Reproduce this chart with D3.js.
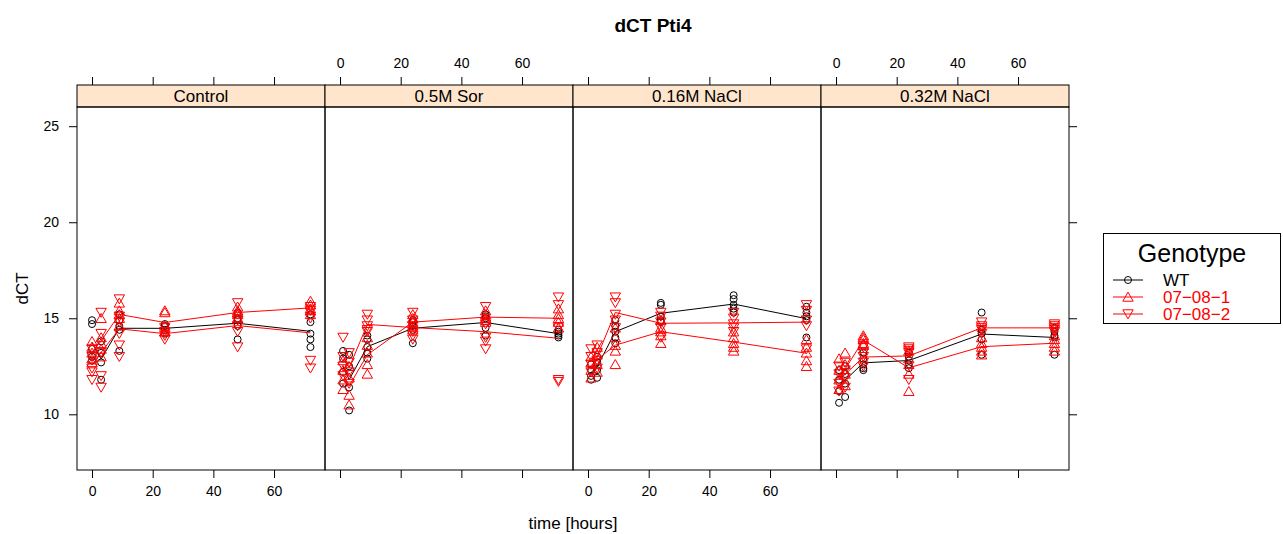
<!DOCTYPE html>
<html>
<head>
<meta charset="utf-8">
<script src="https://cdn.jsdelivr.net/npm/d3@7"></script>
<style>
  body { margin: 0; background: #fff; }
  text { font-family: "Liberation Sans", Arial, Helvetica, sans-serif; }
</style>
</head>
<body>
<svg id="chart" width="1283" height="534"></svg>
<script>
// ---- data -------------------------------------------------------------
const panelNames = ["Control", "0.5M Sor", "0.16M NaCl", "0.32M NaCl"];
const genotypes = ["WT", "07-08-1", "07-08-2"];
const xTicks = [0, 20, 40, 60];
const yTicks = [10, 15, 20, 25];

// sampling times (hours)
const timesControl = [0, 3, 9, 24, 48, 72];
const timesTreated = [1, 3, 9, 24, 48, 72];

// replicate dCT values, one inner array per sampling time
const controlWT = [[14.9, 14.7, 13.4, 13.0, 12.8], [13.8, 13.2, 12.7, 11.8], [15.2, 14.9, 14.6, 14.4, 13.3], [14.7, 14.6, 14.4, 14.2], [15.3, 15.0, 14.9, 14.6, 13.9], [15.2, 14.8, 14.2, 13.9, 13.5]];
const control081 = [[13.8, 13.5, 13.2, 12.9, 12.7], [15.0, 14.0, 13.7, 13.4, 13.0], [15.8, 15.4, 15.2, 15.0, 14.6], [15.4, 15.3, 14.6, 14.3, 14.3], [15.6, 15.4, 15.3, 15.2, 15.0], [15.9, 15.7, 15.5, 15.4, 15.2]];
const control082 = [[13.4, 13.0, 12.4, 12.2, 11.8], [15.3, 14.2, 13.2, 12.0, 11.4], [16.0, 15.1, 14.8, 14.2, 13.6, 13.0], [14.5, 14.3, 14.1, 13.9], [15.8, 14.9, 14.6, 14.3, 13.5], [15.6, 15.4, 15.0, 12.8, 12.4]];

const sorWT = [[13.3, 12.9, 12.2, 11.6], [13.1, 12.5, 11.4, 10.2], [14.1, 13.9, 13.5, 13.2, 12.9], [14.9, 14.8, 14.6, 14.4, 13.7], [15.2, 15.1, 15.0, 14.5, 14.1], [14.4, 14.3, 14.2, 14.1, 14.0]];
const sor081 = [[12.8, 12.3, 11.8, 11.3], [12.5, 11.9, 11.0, 10.5], [14.0, 13.6, 13.2, 12.6, 12.1], [15.2, 15.0, 14.8, 14.6, 14.4], [15.4, 15.2, 15.0, 14.9, 14.8], [15.5, 15.2, 15.0, 14.8, 14.5]];
const sor082 = [[14.0, 13.0, 12.5, 12.0], [13.2, 12.7, 12.2, 11.6], [15.2, 14.9, 14.6, 14.4, 14.3], [15.3, 14.9, 14.6, 14.3, 14.1, 13.9], [15.6, 14.7, 14.0, 13.8, 13.4], [16.1, 15.7, 14.5, 11.8, 11.7]];

const nacl16WT = [[12.6, 12.3, 12.0, 11.8], [13.0, 12.7, 12.3, 11.9], [14.9, 14.6, 14.3, 14.0, 13.7], [15.8, 15.7, 15.1, 14.9, 14.8], [16.2, 16.0, 15.7, 15.5, 15.3], [15.6, 15.3, 15.1, 14.9, 14.0]];
const nacl16081 = [[13.0, 12.7, 12.3, 11.9], [13.5, 13.1, 12.6, 12.2], [14.5, 14.0, 13.6, 13.3, 12.6], [14.9, 14.5, 14.3, 14.1, 13.7], [14.3, 14.0, 13.7, 13.5, 13.3], [13.9, 13.5, 13.2, 12.8, 12.5]];
const nacl16082 = [[13.4, 13.0, 12.6, 12.2], [13.6, 13.2, 12.8, 12.4], [16.1, 15.8, 15.2, 14.9, 14.5], [15.3, 15.1, 14.8, 14.5, 14.0], [15.3, 15.0, 14.7, 14.5, 14.3], [15.7, 15.4, 14.9, 14.6, 13.4]];

const nacl32WT = [[12.3, 11.8, 11.2, 10.6], [12.5, 12.1, 11.6, 10.9], [13.2, 12.9, 12.6, 12.4, 12.3], [13.2, 13.0, 12.8, 12.6, 12.4], [15.3, 14.4, 14.2, 13.9, 13.1], [14.5, 14.3, 14.1, 14.0, 13.1]];
const nacl32081 = [[12.9, 12.3, 11.8, 11.3], [13.2, 12.6, 12.1, 11.5], [14.1, 14.0, 13.9, 13.7, 13.6], [13.3, 12.9, 12.6, 12.1, 11.2], [14.0, 13.7, 13.5, 13.3, 13.1], [14.1, 13.9, 13.7, 13.5, 13.3]];
const nacl32082 = [[12.5, 12.1, 11.6, 11.2], [12.7, 12.3, 11.9, 11.4], [13.5, 13.2, 13.0, 12.7, 12.5], [13.5, 13.4, 13.3, 13.2, 11.8], [14.8, 14.6, 14.5, 14.4, 14.2], [14.7, 14.6, 14.5, 14.4, 14.3]];

// ---- assemble per-panel series -----------------------------------------
const panelTimes = [timesControl, timesTreated, timesTreated, timesTreated];
const panelValues = [
  [controlWT, control081, control082],
  [sorWT, sor081, sor082],
  [nacl16WT, nacl16081, nacl16082],
  [nacl32WT, nacl32081, nacl32082]
];

// ---- layout --------------------------------------------------------------
const svg = d3.select("#chart");
const left = 77, right = 1069;
const stripTop = 85, stripBottom = 107, plotBottom = 470;
const panelW = (right - left) / panelNames.length;
const genoColor = ["#000000", "#ff0000", "#ff0000"];

const y = d3.scaleLinear().domain([7.1, 26.0]).range([plotBottom, stripBottom]);

// open plotting symbols: circle, up-triangle, down-triangle
function symbolPath(kind) {
  const s = 5.2, h = 4.5;
  if (kind === 1) return `M0,${-h - 0.3}L${s},${h - 0.3}L${-s},${h - 0.3}Z`;
  if (kind === 2) return `M0,${h + 0.3}L${s},${-h + 0.3}L${-s},${-h + 0.3}Z`;
  return d3.path();
}

function drawSymbol(g, kind, cx, cy, color) {
  if (kind === 0) {
    g.append("circle").attr("cx", cx).attr("cy", cy).attr("r", 3.5)
      .attr("fill", "none").attr("stroke", color).attr("stroke-width", 1);
  } else {
    g.append("path").attr("d", symbolPath(kind))
      .attr("transform", `translate(${cx},${cy})`)
      .attr("fill", "none").attr("stroke", color).attr("stroke-width", 1);
  }
}

// title
svg.append("text").attr("x", 653).attr("y", 32).attr("text-anchor", "middle")
  .attr("font-size", 19).attr("font-weight", "bold").text("dCT Pti4");

panelNames.forEach((name, p) => {
  const x0 = left + p * panelW;
  const x = d3.scaleLinear().domain([-4.95, 76.8]).range([x0, x0 + panelW]);

  // bottom axis (labels on panels 1 and 3)
  const bottom = svg.append("g").attr("transform", `translate(0,${plotBottom})`)
    .call(d3.axisBottom(x).tickValues(xTicks).tickSize(8).tickPadding(8)
      .tickFormat(p % 2 === 0 ? d3.format("d") : () => ""));
  // top axis (labels on panels 2 and 4)
  const top = svg.append("g").attr("transform", `translate(0,${stripTop})`)
    .call(d3.axisTop(x).tickValues(xTicks).tickSize(8).tickPadding(9)
      .tickFormat(p % 2 === 1 ? d3.format("d") : () => ""));
  [bottom, top].forEach(a => {
    a.select(".domain").remove();
    a.selectAll("line").attr("stroke", "#000");
    a.selectAll("text").attr("font-size", 14).attr("fill", "#000")
      .style("font-family", '"Liberation Sans", Arial, sans-serif');
  });

  // strip
  svg.append("rect").attr("x", x0).attr("y", stripTop).attr("width", panelW)
    .attr("height", stripBottom - stripTop).attr("fill", "#ffe5cc")
    .attr("stroke", "#000").attr("stroke-width", 1);
  svg.append("text").attr("x", x0 + panelW / 2).attr("y", 102)
    .attr("text-anchor", "middle").attr("font-size", 17).text(name);

  // panel frame
  svg.append("rect").attr("x", x0).attr("y", stripBottom).attr("width", panelW)
    .attr("height", plotBottom - stripBottom).attr("fill", "none")
    .attr("stroke", "#000").attr("stroke-width", 1);

  // points and mean lines for each genotype
  const g = svg.append("g");
  const times = panelTimes[p];
  panelValues[p].forEach((series, gi) => {
    const col = genoColor[gi];
    series.forEach((reps, ti) => {
      reps.forEach(v => drawSymbol(g, gi, x(times[ti]), y(v), col));
    });
    const means = series.map((reps, ti) => [times[ti], d3.mean(reps)]);
    g.append("path").datum(means)
      .attr("d", d3.line().x(d => x(d[0])).y(d => y(d[1])))
      .attr("fill", "none").attr("stroke", col).attr("stroke-width", 1);
  });
});

// y axes (labels left, ticks only right)
const yl = svg.append("g").attr("transform", `translate(${left},0)`)
  .call(d3.axisLeft(y).tickValues(yTicks).tickSize(8).tickPadding(10));
const yr = svg.append("g").attr("transform", `translate(${right},0)`)
  .call(d3.axisRight(y).tickValues(yTicks).tickSize(8).tickFormat(() => ""));
[yl, yr].forEach(a => {
  a.select(".domain").remove();
  a.selectAll("line").attr("stroke", "#000");
  a.selectAll("text").attr("font-size", 14).attr("fill", "#000")
    .style("font-family", '"Liberation Sans", Arial, sans-serif');
});

// axis titles
svg.append("text").attr("transform", `translate(28,${(stripBottom + plotBottom) / 2}) rotate(-90)`)
  .attr("text-anchor", "middle").attr("font-size", 17).text("dCT");
svg.append("text").attr("x", (left + right) / 2).attr("y", 529)
  .attr("text-anchor", "middle").attr("font-size", 17).text("time [hours]");

// legend
const lg = svg.append("g");
lg.append("rect").attr("x", 1103.5).attr("y", 233.5).attr("width", 177).attr("height", 90)
  .attr("fill", "#fff").attr("stroke", "#000").attr("stroke-width", 1);
lg.append("text").attr("x", 1192).attr("y", 262).attr("text-anchor", "middle")
  .attr("font-size", 25).text("Genotype");
genotypes.forEach((name, i) => {
  const ry = 280 + i * 17;
  lg.append("line").attr("x1", 1113).attr("x2", 1143).attr("y1", ry).attr("y2", ry)
    .attr("stroke", genoColor[i]).attr("stroke-width", 1);
  drawSymbol(lg, i, 1128, ry, genoColor[i]);
  lg.append("text").attr("x", 1163).attr("y", ry + 6).attr("font-size", 17)
    .attr("fill", genoColor[i]).text(name.replace(/-/g, "\u2212"));
});
</script>
</body>
</html>
